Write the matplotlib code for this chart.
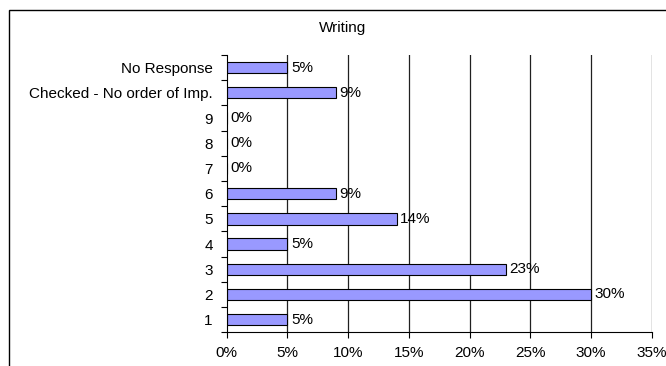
import matplotlib
matplotlib.use("Agg")
import matplotlib.pyplot as plt
from matplotlib.patches import Rectangle
from matplotlib.ticker import FixedLocator, FuncFormatter
import numpy as np

plt.rcParams['font.family'] = ['Liberation Sans', 'DejaVu Sans']

categories = ["1", "2", "3", "4", "5", "6", "7", "8", "9",
              "Checked - No order of Imp.", "No Response"]
values = [5, 30, 23, 5, 14, 9, 0, 0, 0, 9, 5]
x_ticks = [0, 5, 10, 15, 20, 25, 30, 35]
title = "Writing"

FS = 11
W, H = 666, 366
fig = plt.figure(figsize=(W / 100, H / 100), dpi=100)
fig.patch.set_facecolor("white")

# outer chart frame (runs off the right and bottom edges)
fig.patches.append(Rectangle((9 / W, -0.1), 1.2, 1 - 9.5 / H + 0.1,
                             transform=fig.transFigure, fill=False,
                             edgecolor="black", linewidth=1.0))

ax = fig.add_axes([226.7 / W, 1 - 332.3 / H, (651.7 - 226.7) / W, (332.3 - 55) / H])

y = np.arange(len(categories))
ax.barh(y, values, height=0.45, color="#9999FF", edgecolor="black", linewidth=0.8, zorder=3)

for yi, v in zip(y, values):
    ax.text(v + 0.3, yi, f"{v}%", va="center", ha="left", fontsize=FS, zorder=4)

ax.set_xlim(0, 35)
ax.set_ylim(-0.5, len(categories) - 0.5)

ax.set_xticks(x_ticks)
ax.xaxis.set_major_formatter(FuncFormatter(lambda v, p: f"{v:.0f}%"))
ax.tick_params(axis="x", direction="out", length=4, width=0.8, labelsize=FS, pad=6)

ax.set_yticks(y)
ax.set_yticklabels(categories)
ax.tick_params(axis="y", which="major", length=0, labelsize=FS, pad=10)
ax.yaxis.set_minor_locator(FixedLocator(np.arange(-0.5, len(categories), 1.0)))
ax.tick_params(axis="y", which="minor", direction="out", length=4, width=0.8)

for gx in x_ticks[1:]:
    ax.axvline(gx, color="#202020", linewidth=0.9, zorder=1)

for s in ["top", "right"]:
    ax.spines[s].set_visible(False)
for s in ["left", "bottom"]:
    ax.spines[s].set_linewidth(0.8)
    ax.spines[s].set_zorder(5)

fig.text(343 / W, 1 - 28 / H, title, ha="center", va="center", fontsize=FS)

fig.savefig("out.png", dpi=100)
